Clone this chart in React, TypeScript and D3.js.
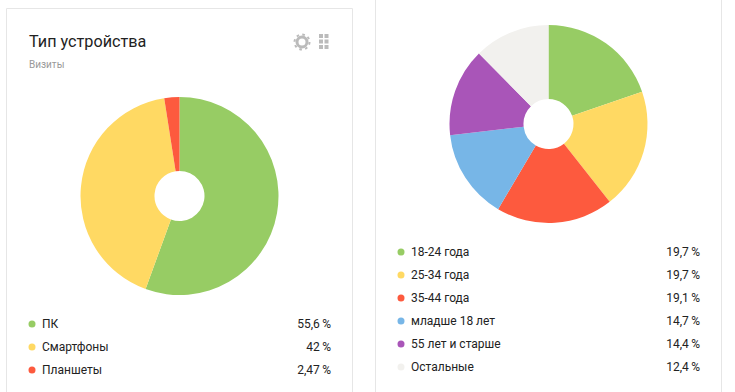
import React from "react";
import * as d3 from "d3";

const deviceLabels = ["ПК", "Смартфоны", "Планшеты"];
const deviceValues = [55.6, 42, 2.47];
const deviceText = ["55,6\u2009%", "42\u2009%", "2,47\u2009%"];
const deviceColors = ["#97cc64", "#ffd963", "#fd5a3e"];

const ageLabels = ["18-24 года", "25-34 года", "35-44 года", "младше 18 лет", "55 лет и старше", "Остальные"];
const ageValues = [19.7, 19.7, 19.1, 14.7, 14.4, 12.4];
const ageText = ["19,7\u2009%", "19,7\u2009%", "19,1\u2009%", "14,7\u2009%", "14,4\u2009%", "12,4\u2009%"];
const ageColors = ["#97cc64", "#ffd963", "#fd5a3e", "#77b6e7", "#a955b8", "#f2f1ee"];

const FONT = "Roboto, sans-serif";

function Donut({ cx, cy, values, colors }: { cx: number; cy: number; values: number[]; colors: string[] }) {
  const pie = d3.pie<number>().sort(null).value((d) => d);
  const arc = d3.arc<d3.PieArcDatum<number>>().innerRadius(25).outerRadius(99);
  return (
    <g transform={`translate(${cx},${cy})`}>
      {pie(values).map((s, i) => (
        <path key={i} d={arc(s) ?? ""} fill={colors[i]} />
      ))}
    </g>
  );
}

function Legend({ x0, x1, y0, labels, text, colors }: { x0: number; x1: number; y0: number; labels: string[]; text: string[]; colors: string[] }) {
  const y = d3.scaleLinear().domain([0, 1]).range([y0, y0 + 23]);
  return (
    <g fontFamily={FONT} fontSize={12} fill="#222">
      {labels.map((l, i) => (
        <g key={l}>
          <circle cx={x0} cy={y(i)} r={3.5} fill={colors[i]} />
          <text x={x0 + 10} y={y(i) + 4}>{l}</text>
          <text x={x1} y={y(i) + 4} textAnchor="end">{text[i]}</text>
        </g>
      ))}
    </g>
  );
}

export default function App() {
  return (
    <svg width={735} height={392} style={{ position: "absolute", left: 0, top: 0, background: "#fff" }}>
      <path d="M6.5 392V8.5H352.5V392" fill="none" stroke="#e6e6e6" />
      <path d="M375.5 0V392M721.5 0V392" fill="none" stroke="#e6e6e6" />
      <text x={29} y={47} fontFamily={FONT} fontSize={16.2} fill="#222">Тип устройства</text>
      <text x={29} y={68} fontFamily={FONT} fontSize={10} fill="#999">Визиты</text>
      <g fill="#bbb">
        <circle cx={302} cy={42} r={5} fill="none" stroke="#bbb" strokeWidth={3} />
        <circle cx={302} cy={42} r={7.5} fill="none" stroke="#bbb" strokeWidth={2} strokeDasharray="2.6 3.3" />
        {[0, 1].flatMap((c) => [0, 1, 2].map((r) => (
          <rect key={`${c}${r}`} x={319 + c * 5.5} y={34 + r * 5.5} width={4} height={4} />
        )))}
      </g>
      <Donut cx={179.5} cy={196} values={deviceValues} colors={deviceColors} />
      <Donut cx={548.5} cy={124} values={ageValues} colors={ageColors} />
      <Legend x0={32} x1={331} y0={324} labels={deviceLabels} text={deviceText} colors={deviceColors} />
      <Legend x0={401} x1={700} y0={252} labels={ageLabels} text={ageText} colors={ageColors} />
    </svg>
  );
}
